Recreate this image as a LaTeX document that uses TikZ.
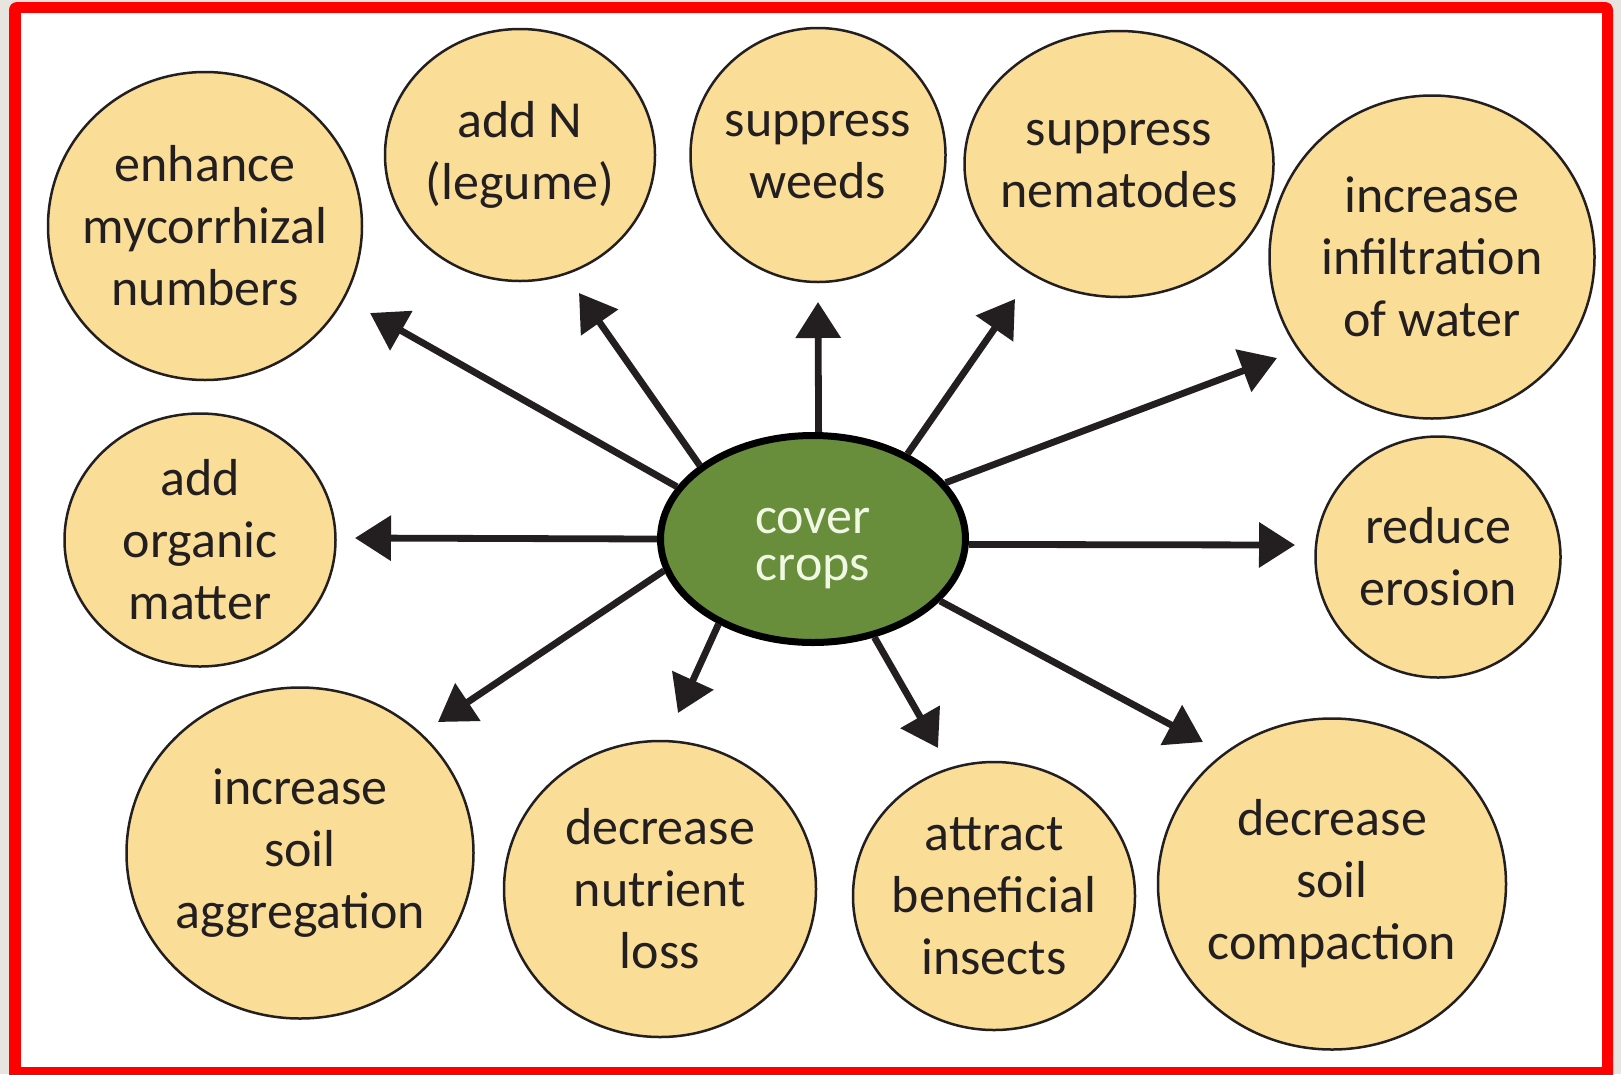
\documentclass[tikz,border=0pt]{standalone}
\usepackage{fontspec}
\setmainfont{Carlito}
\usetikzlibrary{arrows.meta,positioning,shapes.geometric}
\definecolor{bubblefill}{RGB}{250,221,150}
\definecolor{ink}{RGB}{35,31,32}
\definecolor{leaf}{RGB}{104,141,59}
\definecolor{leaftext}{RGB}{240,248,228}
\definecolor{backgrey}{RGB}{232,229,224}
\definecolor{framered}{RGB}{255,0,0}

\begin{document}
\begin{tikzpicture}[x=1pt,y=-1pt,>={Triangle[length=36pt,width=44pt]}]
  \tikzstyle{bubble}=[ellipse,draw=ink,line width=2.5pt,fill=bubblefill,inner sep=-60pt,align=center,text=ink,font=\fontsize{52}{62}\selectfont]
  \tikzstyle{arr}=[line width=6.8pt,draw=ink,->]
  \useasboundingbox (0,0) rectangle (1621,1074);
  % frame
  \fill[backgrey] (0,0) rectangle (1621,1074);
  \fill[framered,rounded corners=8pt] (9,2) rectangle (1613,1090);
  \fill[white] (21,13) rectangle (1602,1067);
  % effects
  \node[bubble,minimum width=314pt,minimum height=308pt] (micor) at (205,226) {enhance\\mycorrhizal\\numbers};
  \node[bubble,minimum width=270pt,minimum height=252pt] (nitro) at (520,155) {add N\\(legume)};
  \node[bubble,minimum width=255pt,minimum height=254pt] (weeds) at (818,155) {suppress\\weeds};
  \node[bubble,minimum width=309pt,minimum height=266pt] (nemat) at (1119,164) {suppress\\nematodes};
  \node[bubble,minimum width=325pt,minimum height=323pt] (infil) at (1432,257) {increase\\infiltration\\of water};
  \node[bubble,minimum width=271pt,minimum height=253pt] (organ) at (200,540) {add\\organic\\matter};
  \node[bubble,minimum width=245pt,minimum height=241pt] (eros) at (1438,557) {reduce\\erosion};
  \node[bubble,minimum width=347pt,minimum height=331pt] (aggr) at (300,853) {increase\\soil\\aggregation};
  \node[bubble,minimum width=312pt,minimum height=296pt] (nutri) at (660,889) {decrease\\nutrient\\loss};
  \node[bubble,minimum width=282pt,minimum height=268pt] (insect) at (994,896) {attract\\beneficial\\insects};
  \node[bubble,minimum width=348pt,minimum height=331pt] (compac) at (1332,884) {decrease\\soil\\compaction};
  % hub
  \node[ellipse,draw=black,line width=7pt,fill=leaf,minimum width=305pt,minimum height=207pt,inner sep=-60pt] (cover) at (813,539) {};
  \node[align=center,text=leaftext,font=\fontsize{52}{47}\selectfont] (covertxt) at ([yshift=-10pt]cover.center) {cover\\crops};
  % arrow tips
  \coordinate (tmicor) at (370,313);
  \coordinate (tnitro) at (579,293);
  \coordinate (tweeds) at (818,302);
  \coordinate (tnemat) at (1015,299);
  \coordinate (tinfil) at (1277,358);
  \coordinate (torgan) at (355,538);
  \coordinate (teros) at (1295,545);
  \coordinate (taggr) at (438,722);
  \coordinate (tnutri) at (678,713);
  \coordinate (tinsect) at (938,748);
  \coordinate (tcompac) at (1203,742);
  \draw[arr] (cover.159) -- (tmicor);
  \draw[arr] (cover.147) -- (tnitro);
  \draw[arr] (cover.87) -- (tweeds);
  \draw[arr] (cover.42) -- (tnemat);
  \draw[arr] (cover.23) -- (tinfil);
  \draw[arr] (cover.180) -- (torgan);
  \draw[arr] (cover.358) -- (teros);
  \draw[arr] (cover.192) -- (taggr);
  \draw[arr] (cover.222) -- (tnutri);
  \draw[arr] (cover.302) -- (tinsect);
  \draw[arr] (cover.334) -- (tcompac);
\end{tikzpicture}
\end{document}
